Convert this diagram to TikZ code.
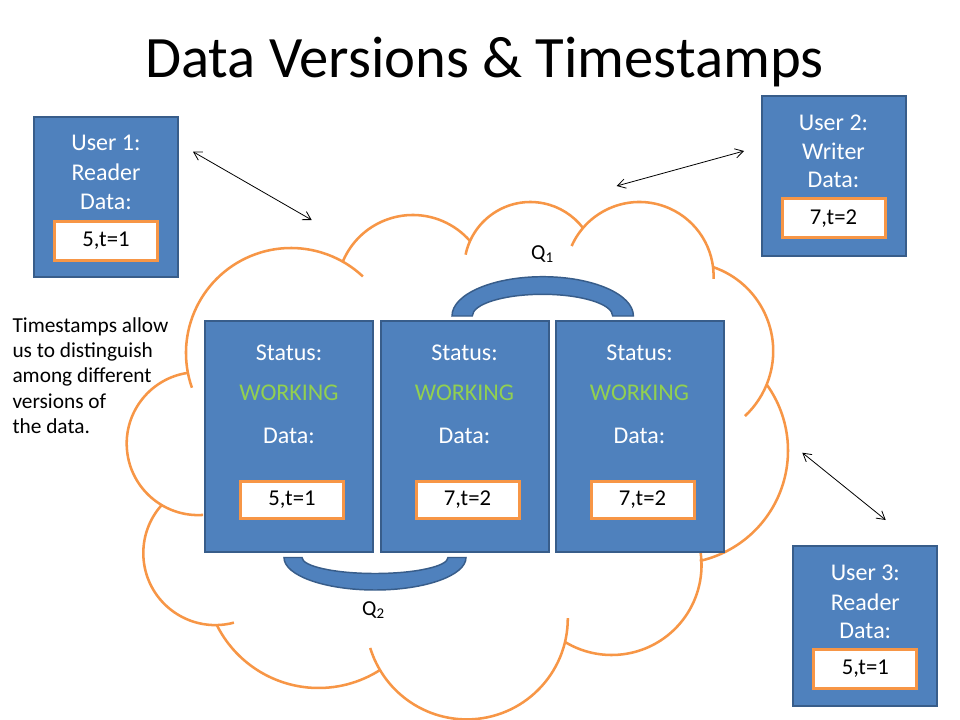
\documentclass[tikz,border=0pt]{standalone}
\usepackage{fontspec}
\setmainfont{Carlito}
\usetikzlibrary{arrows.meta}

\definecolor{boxblue}{RGB}{79,129,189}
\definecolor{boxedge}{RGB}{56,93,138}
\definecolor{peach}{RGB}{247,150,70}
\definecolor{okgreen}{RGB}{146,208,80}

\tikzset{every picture/.style={line width=0.75pt}}
\tikzset{
  userbox/.style={draw=boxedge, line width=1.5pt, fill=boxblue, minimum width=108pt, minimum height=120pt, inner sep=0pt},
  srvbox/.style={draw=boxedge, line width=1.5pt, fill=boxblue, minimum width=126pt, minimum height=173.25pt, inner sep=0pt},
  valbox/.style={draw=peach, line width=2.25pt, fill=white, minimum width=77.25pt, minimum height=29.25pt, inner sep=0pt, font=\fontsize{17}{20}\selectfont},
  srvval/.style={valbox, minimum height=27.75pt},
  boxlabel/.style={text=white, inner sep=0pt, font=\fontsize{18}{22}\selectfont},
  statelabel/.style={text=okgreen, inner sep=0pt, font=\fontsize{18}{22}\selectfont},
  cloudarc/.style={draw=peach, line width=1.9pt},
  qarch/.style={draw=boxedge, line width=1.1pt, fill=boxblue},
  qlabel/.style={anchor=base west, inner sep=0pt, font=\fontsize{16}{19}\selectfont},
  sync/.style={draw=black, line width=0.6pt, >={Straight Barb[length=6pt,width=7pt]}, <->},
}

\begin{document}
\begin{tikzpicture}[x=0.75pt,y=0.75pt,yscale=-1,xscale=1]
\useasboundingbox (0,0) rectangle (960,720);
\fill[white] (0,0) rectangle (960,720);

%Shape: Cloud, one arc for each lobe (the inner ticks are the arcs running on)
\draw[cloudarc] (198.2,443.6) ++(261:71.5) arc[start angle=261, end angle=86, radius=71.5];
\draw[cloudarc] (291,353) ++(160.7:105) arc[start angle=160.7, end angle=313.2, radius=105];
\draw[cloudarc] (412.8,290.9) ++(203.2:75.9) arc[start angle=203.2, end angle=318.9, radius=75.9];
\draw[cloudarc] (530.4,268.2) ++(191.8:66.2) arc[start angle=191.8, end angle=322.6, radius=66.2];
\draw[cloudarc] (639.4,276.2) ++(204:74.2) arc[start angle=204, end angle=362, radius=74.2];
\draw[cloudarc] (684.4,351.1) ++(-71.2:88.8) arc[start angle=-71.2, end angle=47, radius=88.8];
\draw[cloudarc] (674.9,450.6) ++(-35.5:113.1) arc[start angle=-35.5, end angle=77.3, radius=113.1];
\draw[cloudarc] (611.6,565.1) ++(-10:89.9) arc[start angle=-10, end angle=121.2, radius=89.9];
\draw[cloudarc] (466.8,618.4) ++(-0.2:101) arc[start angle=-0.2, end angle=163, radius=101];
\draw[cloudarc] (318.6,574.2) ++(153.5:113.8) arc[start angle=153.5, end angle=57.3, radius=113.8];
\draw[cloudarc] (215.3,553.1) ++(221.9:72) arc[start angle=221.9, end angle=75, radius=72];

%Shape: Block Arc [Q1]
\draw[qarch] (452,316) arc[start angle=180, end angle=360, x radius=90.7, y radius=39.3] -- (612.7,316) arc[start angle=360, end angle=180, x radius=70.2, y radius=21.7] -- cycle;
%Shape: Block Arc [Q2]
\draw[qarch] (284,557.5) arc[start angle=180, end angle=0, x radius=91, y radius=32.5] -- (448,557.5) arc[start angle=0, end angle=180, x radius=73, y radius=16] -- cycle;

% Text Node
\node (title) at (484.5,77.3) [anchor=base, inner sep=0pt, font=\fontsize{44}{52}\selectfont] {Data Versions \& Timestamps};
% Text Node
\node (note) at (12,317) [anchor=north west, align=left, inner sep=0pt, font=\fontsize{16}{19}\selectfont] {Timestamps allow\\us to distinguish\\among different\\versions of\\the data.};
% Text Node
\node (q1) at (530.7,259.3) [qlabel] {Q\textsubscript{1}};
% Text Node
\node (q2) at (361.7,615) [qlabel] {Q\textsubscript{2}};

%Shape: Rectangle [User 1]
\node (user1) at (106,196.7) [userbox] {};
\node (u1head) at (106,143) [boxlabel] {User 1:};
\node (u1role) at (106,172.7) [boxlabel] {Reader};
\node (u1data) at (106,201.7) [boxlabel] {Data:};
\node (u1val) at (106,241) [valbox] {5,t=1};

%Shape: Rectangle [User 2]
\node (user2) at (833.5,175.8) [userbox] {};
\node (u2head) at (833.5,122.7) [boxlabel] {User 2:};
\node (u2role) at (833.5,151) [boxlabel] {Writer};
\node (u2data) at (833.5,180) [boxlabel] {Data:};
\node (u2val) at (833.5,218.5) [valbox] {7,t=2};

%Shape: Rectangle [User 3]
\node (user3) at (865.3,625.8) [userbox] {};
\node (u3head) at (865.3,573) [boxlabel] {User 3:};
\node (u3role) at (865.3,602) [boxlabel] {Reader};
\node (u3data) at (865.3,631) [boxlabel] {Data:};
\node (u3val) at (865.3,669) [valbox] {5,t=1};

%Shape: Rectangle [Server 1]
\node (srv1) at (289,436.5) [srvbox] {};
\node (s1head) at (289,352.7) [boxlabel] {Status:};
\node (s1state) at (289,392.5) [statelabel] {WORKING};
\node (s1data) at (289,435.7) [boxlabel] {Data:};
\node (s1val) at (292,500) [srvval] {5,t=1};

%Shape: Rectangle [Server 2]
\node (srv2) at (464.5,436.5) [srvbox] {};
\node (s2head) at (464.5,352.7) [boxlabel] {Status:};
\node (s2state) at (464.5,392.5) [statelabel] {WORKING};
\node (s2data) at (464.5,435.7) [boxlabel] {Data:};
\node (s2val) at (467.5,500) [srvval] {7,t=2};

%Shape: Rectangle [Server 3]
\node (srv3) at (639.5,436.5) [srvbox] {};
\node (s3head) at (639.5,352.7) [boxlabel] {Status:};
\node (s3state) at (639.5,392.5) [statelabel] {WORKING};
\node (s3data) at (639.5,435.7) [boxlabel] {Data:};
\node (s3val) at (642.5,500) [srvval] {7,t=2};

%Straight Lines [user links]
\coordinate (l1a) at (193,151.7);
\coordinate (l1b) at (311.7,220);
\coordinate (l2a) at (616.7,186);
\coordinate (l2b) at (744,151);
\coordinate (l3a) at (802.3,452.7);
\coordinate (l3b) at (885.7,520);
\draw[sync] (l1a) -- (l1b);
\draw[sync] (l2a) -- (l2b);
\draw[sync] (l3a) -- (l3b);

\end{tikzpicture}
\end{document}
